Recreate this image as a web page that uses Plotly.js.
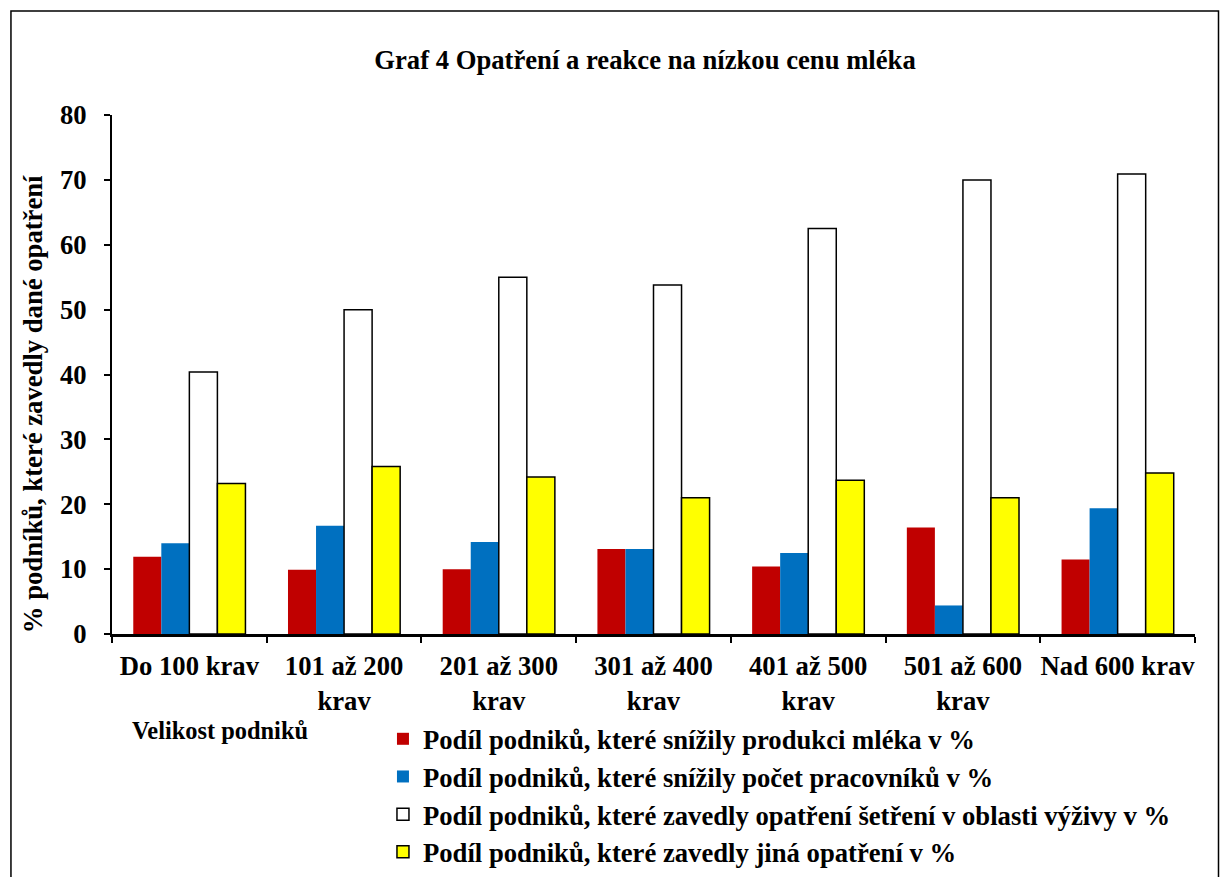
<!DOCTYPE html>
<html>
<head>
<meta charset="utf-8">
<script src="https://cdn.plot.ly/plotly-3.0.1.min.js"></script>
<style>html,body{margin:0;padding:0;background:#fff;}#chart{width:1220px;height:877px;}</style>
</head>
<body>
<div id="chart"></div>
<script>
const categories = ["Do 100 krav", "101 až 200 krav", "201 až 300 krav", "301 až 400 krav", "401 až 500 krav", "501 až 600 krav", "Nad 600 krav"];
const tickLabels = ["Do 100 krav", "101 až 200<br>krav", "201 až 300<br>krav", "301 až 400<br>krav", "401 až 500<br>krav", "501 až 600<br>krav", "Nad 600 krav"];
const seriesNames = [
  "Podíl podniků, které snížily produkci mléka v %",
  "Podíl podniků, které snížily počet pracovníků v %",
  "Podíl podniků, které zavedly opatření šetření v oblasti výživy v %",
  "Podíl podniků, které zavedly jiná opatření v %"
];
const reducedProduction = [11.9, 9.9, 10.0, 13.1, 10.4, 16.4, 11.5];
const reducedWorkers = [14.0, 16.7, 14.2, 13.1, 12.5, 4.4, 19.4];
const feedSaving = [40.4, 50.0, 55.0, 53.8, 62.5, 70.0, 70.9];
const otherMeasures = [23.2, 25.8, 24.2, 21.0, 23.7, 21.0, 24.8];
const yTicks = [0, 10, 20, 30, 40, 50, 60, 70, 80];

const font = "Liberation Serif";
const seriesValues = [reducedProduction, reducedWorkers, feedSaving, otherMeasures];
const fills = ["#C00000", "#0070C0", "#FFFFFF", "#FFFF00"];
const lineW = [0, 0, 1.5, 1.5];

const traces = seriesValues.map((v, i) => ({
  type: "bar",
  x: categories,
  y: v,
  name: "<b>" + seriesNames[i] + "</b>",
  legendgroup: "g" + i,
  marker: {color: fills[i], line: {color: "#000", width: lineW[i]}},
  hoverinfo: "y"
}));

const layout = {
  width: 1220, height: 877,
  paper_bgcolor: "#fff", plot_bgcolor: "#fff",
  margin: {l: 112, r: 25, t: 115, b: 243, autoexpand: false},
  barmode: "group", bargap: 0.275, bargroupgap: 0,
  font: {family: font, color: "#000", size: 26.67},
  title: {text: "<b>Graf 4 Opatření a reakce na nízkou cenu mléka</b>", font: {family: font, size: 26.67, color: "#000"},
    xref: "container", yref: "container", x: 0.5287, xanchor: "center", y: 0.9316, yanchor: "middle"},
  xaxis: {
    type: "category", tickvals: categories, ticktext: tickLabels.map(t => "<b>" + t.replace("<br>", "</b><br><b>") + "</b>"),
    tickson: "boundaries", ticks: "outside", ticklen: 6, tickwidth: 2, tickcolor: "#000", tickangle: 0, ticklabelstandoff: 6,
    showline: true, linecolor: "#000", linewidth: 3, showgrid: false, zeroline: false,
    tickfont: {family: font, size: 26.67, color: "#000"}, automargin: false
  },
  yaxis: {
    range: [0, 80], tickvals: yTicks, ticktext: yTicks.map(t => "<b>" + t + "</b>"),
    ticks: "outside", ticklen: 6, tickwidth: 2, tickcolor: "#000", ticklabelstandoff: 12,
    showline: true, linecolor: "#000", linewidth: 2, showgrid: false, zeroline: false,
    tickfont: {family: font, size: 26.67, color: "#000"}, automargin: false
  },
  legend: {
    x: 0.2502, xanchor: "left", y: -0.156, yanchor: "top",
    orientation: "v", font: {family: font, size: 26.67, color: "#000"},
    bgcolor: "rgba(0,0,0,0)", tracegroupgap: 0, itemwidth: 30, traceorder: "normal"
  },
  annotations: [{
    text: "<b>Velikost podniků</b>", xref: "paper", yref: "paper",
    x: 0.0163, xanchor: "left", y: -0.185, yanchor: "middle", showarrow: false,
    font: {family: font, size: 24.4, color: "#000"}
  }, {
    text: "<b>% podníků, které zavedly dané opatření</b>", xref: "paper", yref: "paper",
    x: -0.0729, xanchor: "center", y: 0.443, yanchor: "middle", textangle: -90, showarrow: false,
    font: {family: font, size: 26.67, color: "#000"}
  }],
  shapes: [{
    type: "rect", xref: "paper", yref: "paper",
    x0: -0.0933, x1: 1.0217, y0: -0.48, y1: 1.2004,
    line: {color: "#000", width: 1.5}, fillcolor: "rgba(0,0,0,0)", layer: "below"
  }]
};
Plotly.newPlot("chart", traces, layout, {displayModeBar: false, staticPlot: true});
</script>
</body>
</html>
